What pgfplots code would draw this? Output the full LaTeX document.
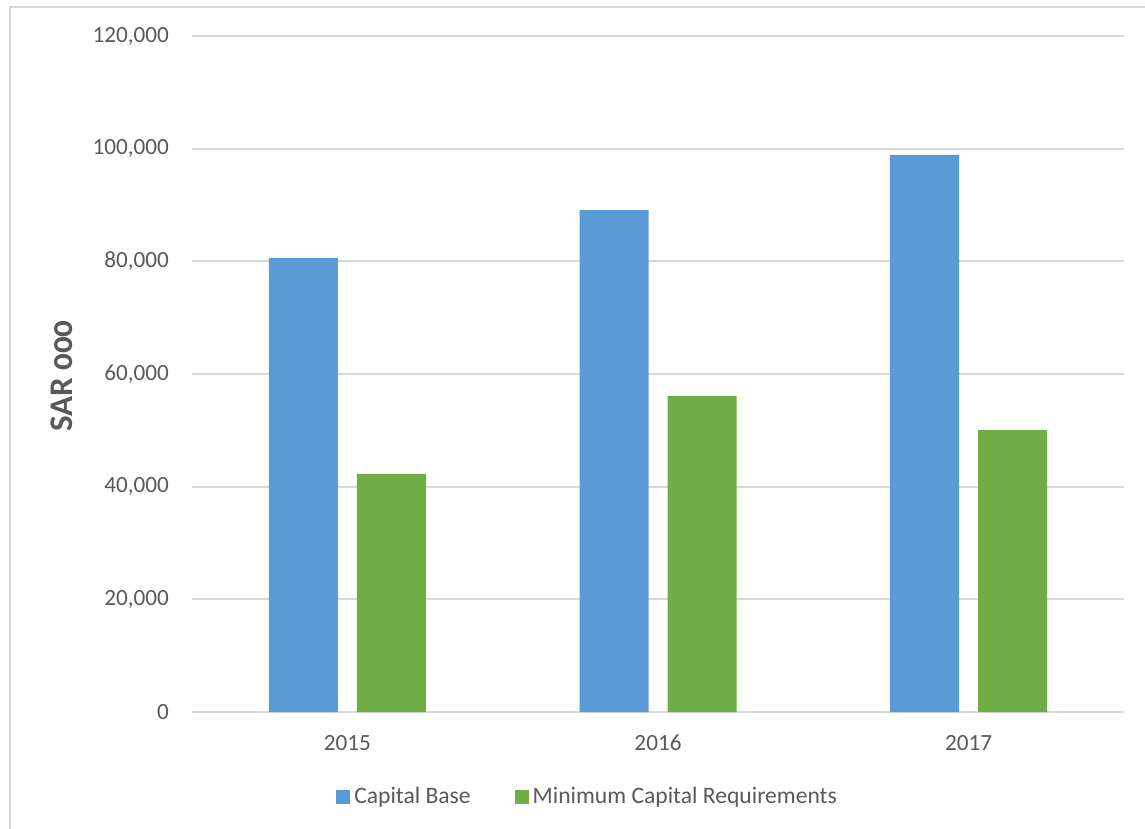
\documentclass[border=0pt]{standalone}
\usepackage{fontspec}
\setmainfont{Carlito}
\usepackage{pgfplots}
\pgfplotsset{compat=1.18}
\definecolor{cbblue}{HTML}{5B9BD5}
\definecolor{cbgreen}{HTML}{70AD47}
\definecolor{gridc}{HTML}{D9D9D9}
\definecolor{txt}{HTML}{595959}
\begin{document}
\begin{tikzpicture}
\useasboundingbox (0pt,0pt) rectangle (572.5pt,-414.5pt);
\draw[gridc, line width=1pt] (5pt,-414.5pt) -- (5pt,-3.5pt) -- (572.5pt,-3.5pt);
\begin{axis}[
  at={(96pt,-356pt)}, anchor=south west,
  scale only axis, width=466pt, height=338pt,
  xmin=-0.5, xmax=2.5, ymin=0, ymax=120000,
  xtick={0,1,2}, xticklabels={2015,2016,2017},
  ytick={0,20000,40000,60000,80000,100000,120000},
  ymajorgrids, grid style={gridc, line width=0.85pt},
  axis line style={draw=none},
  major tick length=0pt,
  tick label style={font=\fontsize{11.6}{13}\selectfont, text=txt},
  scaled y ticks=false,
  yticklabel style={/pgf/number format/.cd, fixed, precision=0, 1000 sep={,}, assume math mode=true, /tikz/.cd, anchor=east, xshift=-8pt},
  xticklabel style={anchor=north, yshift=-8pt},
  ylabel={\textbf{SAR {\addfontfeatures{Numbers=OldStyle}000}}},
  ylabel style={font=\fontsize{16.5}{19}\selectfont, text=txt, at={(axis description cs:-0.1395,0.497)}, anchor=center, rotate=0},
  legend style={at={(axis description cs:0.4255,-0.1255)}, anchor=center, draw=none, fill=none,
    font=\fontsize{11.8}{13}\selectfont, text=txt, legend columns=2,
    /tikz/every even column/.append style={column sep=20pt},
    /tikz/every odd column/.append style={inner xsep=1pt}},
  legend cell align=left,
]
\addplot[ybar, bar width=34.5pt, bar shift=-22pt, fill=cbblue, draw=none,
  legend image code/.code={\fill[cbblue] (0pt,-3.5pt) rectangle (7pt,3.5pt);}]
  coordinates {(0,80600) (1,89100) (2,98900)};
\addlegendentry{Capital Base}
\addplot[ybar, bar width=34.5pt, bar shift=22pt, fill=cbgreen, draw=none,
  legend image code/.code={\fill[cbgreen] (0pt,-3.5pt) rectangle (7pt,3.5pt);}]
  coordinates {(0,42250) (1,56100) (2,50050)};
\addlegendentry{Minimum Capital Requirements}
\end{axis}
\end{tikzpicture}
\end{document}
